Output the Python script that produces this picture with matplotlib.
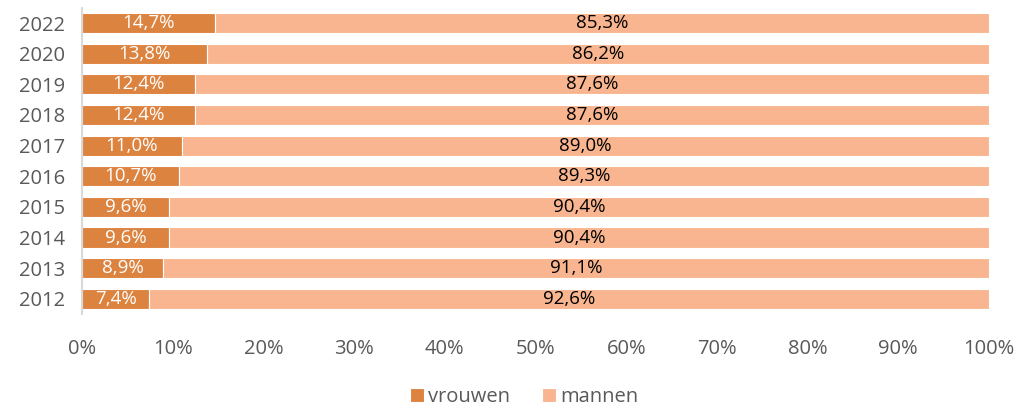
import matplotlib
matplotlib.use("Agg")
import matplotlib.pyplot as plt
from matplotlib.ticker import PercentFormatter

years = ["2012", "2013", "2014", "2015", "2016", "2017", "2018", "2019", "2020", "2022"]
vrouwen = [7.4, 8.9, 9.6, 9.6, 10.7, 11.0, 12.4, 12.4, 13.8, 14.7]
mannen = [92.6, 91.1, 90.4, 90.4, 89.3, 89.0, 87.6, 87.6, 86.2, 85.3]

c_v = "#DD8340"
c_m = "#F8B58F"
plt.rcParams['font.family'] = ['Open Sans', 'DejaVu Sans']

fig = plt.figure(figsize=(10.18, 4.08), dpi=100)
ax = fig.add_axes([0.0806, 0.230, 0.8909, 0.751])

y = list(range(len(years)))
b1 = ax.barh(y, vrouwen, height=0.66, color=c_v, edgecolor="white", linewidth=0.8, label="vrouwen")
b2 = ax.barh(y, mannen, left=vrouwen, height=0.66, color=c_m, edgecolor="white", linewidth=0.8, label="mannen")

for i in y:
    ax.text(vrouwen[i] / 2, i, f"{vrouwen[i]:.1f}%".replace(".", ","), ha="center", va="center",
            color="white", fontsize=13.5)
    ax.text(vrouwen[i] + mannen[i] / 2, i, f"{mannen[i]:.1f}%".replace(".", ","), ha="center", va="center",
            color="black", fontsize=13.5)

ax.set_xlim(0, 100)
ax.set_ylim(-0.5, len(years) - 0.5)
ax.set_yticks(y)
ax.set_yticklabels(years)
ax.set_xticks(range(0, 101, 10))
ax.xaxis.set_major_formatter(PercentFormatter(decimals=0))
ax.tick_params(axis="both", length=0, labelsize=14.5, colors="#595959")
ax.tick_params(axis="x", pad=18)
ax.tick_params(axis="y", pad=12)
for s in ["top", "right", "bottom"]:
    ax.spines[s].set_visible(False)
ax.spines["left"].set_color("#D9D9D9")
ax.spines["left"].set_linewidth(1.5)

fig.legend(handles=[b1, b2], labels=["vrouwen", "mannen"], loc="lower center",
           bbox_to_anchor=(0.515, -0.042), ncol=2, frameon=False, fontsize=14.5,
           handlelength=0.7, handleheight=0.7, handletextpad=0.2, columnspacing=1.6,
           labelcolor="#595959")

fig.savefig("out.png", dpi=100)
